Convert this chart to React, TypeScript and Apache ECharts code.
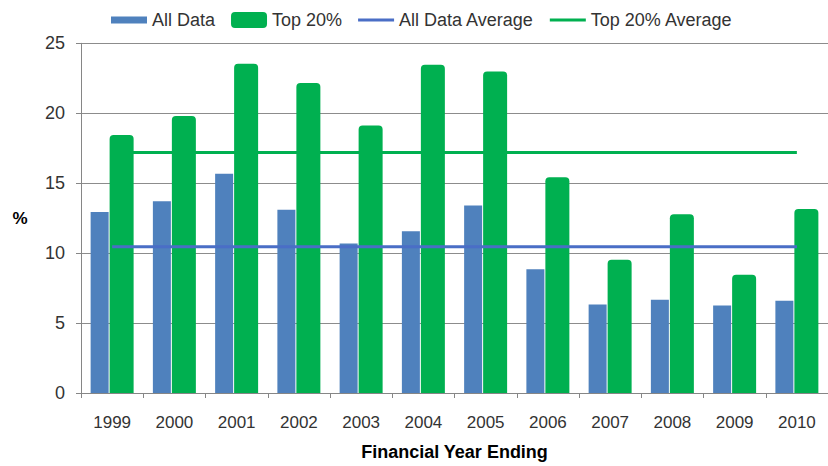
import React, { useEffect, useRef } from "react";
import * as echarts from "echarts";

const years = ["1999", "2000", "2001", "2002", "2003", "2004", "2005", "2006", "2007", "2008", "2009", "2010"];
const allData = [12.94, 13.71, 15.68, 13.1, 10.69, 11.56, 13.41, 8.85, 6.32, 6.67, 6.25, 6.6];
const top20 = [18.44, 19.8, 23.53, 22.16, 19.12, 23.46, 22.98, 15.42, 9.52, 12.78, 8.45, 13.15];
const allDataAverage = 10.46;
const top20Average = 17.19;
const yTicks = { min: 0, max: 25, interval: 5 };

const BLUE = "#4F81BD";
const GREEN = "#00B050";
const BLUE_LINE = "#4A6EC6";
const FONT = "'Liberation Sans', Arial, sans-serif";
const BAR_ICON = "path://M0 0M36 16M0 4.5h36v7h-36z";
const LINE_ICON = "path://M0 0M36 16M0 6.5h36v3h-36z";

export default function App() {
  const ref = useRef<HTMLDivElement>(null);
  useEffect(() => {
    if (!ref.current) return;
    const chart = echarts.init(ref.current, undefined, { renderer: "svg" });
    chart.setOption({
      animation: false,
      backgroundColor: "#ffffff",
      textStyle: { fontFamily: FONT },
      legend: {
        left: 106,
        top: 6,
        itemWidth: 36,
        itemHeight: 16,
        itemGap: 16,
        textStyle: { fontSize: 18, color: "#333333", fontFamily: FONT },
        data: [
          { name: "All Data", icon: BAR_ICON, itemStyle: { color: BLUE } },
          { name: "Top 20%", icon: "roundRect", itemStyle: { color: GREEN } },
          { name: "All Data Average", icon: LINE_ICON, itemStyle: { color: BLUE_LINE } },
          { name: "Top 20% Average", icon: LINE_ICON, itemStyle: { color: GREEN } },
        ],
      },
      grid: { left: 81, top: 43.3, width: 747.6, height: 356, containLabel: false },
      xAxis: {
        type: "category",
        data: years,
        name: "Financial Year Ending",
        nameLocation: "middle",
        nameGap: 50,
        nameTextStyle: { fontSize: 18, fontWeight: "bold", color: "#000000", fontFamily: FONT },
        axisLine: { show: true, lineStyle: { color: "#868686", width: 1 } },
        axisTick: { show: true, length: 5, lineStyle: { color: "#868686" } },
        axisLabel: { fontSize: 17, color: "#333333", margin: 21, fontFamily: FONT },
        splitLine: { show: false },
      },
      yAxis: {
        type: "value",
        min: yTicks.min,
        max: yTicks.max,
        interval: yTicks.interval,
        name: "%",
        nameLocation: "middle",
        nameRotate: 0,
        nameGap: 61,
        nameTextStyle: { fontSize: 17, fontWeight: "bold", color: "#000000", align: "center", verticalAlign: "middle", fontFamily: FONT },
        axisLine: { show: true, lineStyle: { color: "#868686", width: 1 } },
        axisTick: { show: true, length: 5, lineStyle: { color: "#868686" } },
        axisLabel: { fontSize: 18, color: "#333333", margin: 16, fontFamily: FONT },
        splitLine: { show: true, lineStyle: { color: "#8c8c8c", width: 1 } },
      },
      series: [
        {
          name: "All Data",
          type: "bar",
          data: allData,
          barWidth: 18,
          barGap: "5.5%",
          itemStyle: { color: BLUE },
        },
        {
          name: "Top 20%",
          type: "bar",
          data: top20,
          barWidth: 24,
          barGap: "5.5%",
          itemStyle: { color: GREEN, borderRadius: [4, 4, 0, 0] },
        },
        {
          name: "All Data Average",
          type: "line",
          data: years.map(() => allDataAverage),
          symbol: "none",
          z: 5,
          lineStyle: { color: BLUE_LINE, width: 3 },
          itemStyle: { color: BLUE_LINE },
        },
        {
          name: "Top 20% Average",
          type: "line",
          data: years.map(() => top20Average),
          symbol: "none",
          z: 5,
          lineStyle: { color: GREEN, width: 3 },
          itemStyle: { color: GREEN },
        },
      ],
    });
    return () => chart.dispose();
  }, []);
  return (
    <div
      ref={ref}
      style={{ position: "fixed", left: 0, top: 0, width: 828, height: 466, background: "#fff" }}
    />
  );
}
